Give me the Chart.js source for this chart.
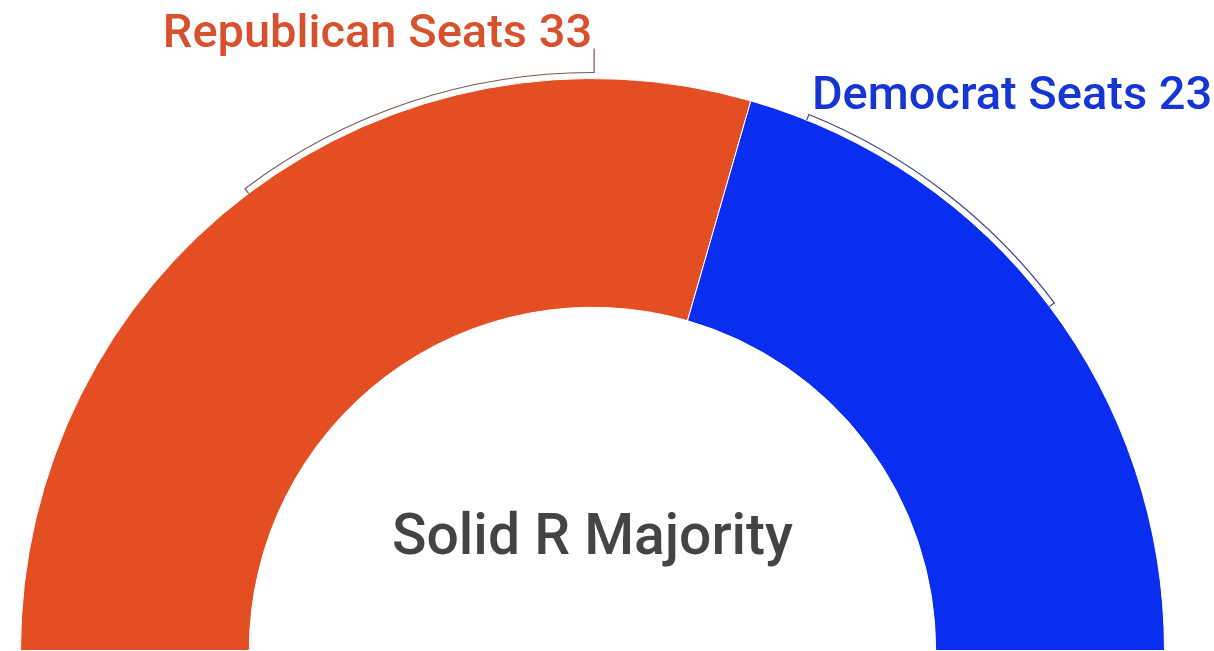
<!DOCTYPE html>
<html>
<head>
<meta charset="utf-8">
<script src="https://cdn.jsdelivr.net/npm/chart.js@4"></script>
<style>
  html, body { margin: 0; padding: 0; background: #fff; }
  #wrap { width: 1214px; height: 651px; }
</style>
</head>
<body>
<div id="wrap"><canvas id="myChart"></canvas></div>
<script>
  // seats by party
  const parties = ["Republican Seats", "Democrat Seats"];
  const seats = [33, 23];
  const sliceColours = ["#E34E22", "#0A2EF0"];
  const textColours = ["#D8512E", "#1536D4"];
  const centreText = "Solid R Majority";

  // where each bracket sits along its slice, as fraction of the slice
  const bracketSpan = [[0.50, 0.85], [0.08, 0.50]];

  // draws the curved brackets, the labels and the middle text
  const callouts = {
    id: "callouts",
    afterDraw(chart) {
      const ctx = chart.ctx;
      const arcs = chart.getDatasetMeta(0).data;
      arcs.forEach((arc, i) => {
        const p = arc.getProps(["x", "y", "startAngle", "endAngle", "outerRadius"], true);
        const r = p.outerRadius + 6;
        const a0 = p.startAngle + (p.endAngle - p.startAngle) * bracketSpan[i][0];
        const a1 = p.startAngle + (p.endAngle - p.startAngle) * bracketSpan[i][1];
        const pt = (a, rr) => [p.x + Math.cos(a) * rr, p.y + Math.sin(a) * rr];

        ctx.save();
        ctx.strokeStyle = i == 0 ? "#7a5a50" : "#39438a";
        ctx.lineWidth = 1.2;
        ctx.beginPath();
        let s = pt(a0, r - 6);
        ctx.moveTo(s[0], s[1]);
        ctx.arc(p.x, p.y, r, a0, a1);
        let e;
        if (i == 0) {
          // end tick goes up towards the label
          e = pt(a1, r);
          ctx.lineTo(e[0], e[1] - 24);
        } else {
          e = pt(a1, r - 6);
          ctx.lineTo(e[0], e[1]);
        }
        ctx.stroke();

        ctx.fillStyle = textColours[i];
        ctx.font = "500 47px Roboto";
        ctx.textBaseline = "alphabetic";
        const txt = parties[i] + " " + seats[i];
        if (i == 0) {
          const q = pt(a1, r);
          ctx.textAlign = "right";
          ctx.fillText(txt, q[0] - 2, q[1] - 26);
        } else {
          const q = pt(a0, r);
          ctx.textAlign = "left";
          ctx.fillText(txt, q[0] + 3, q[1] - 6);
        }
        ctx.restore();
      });

      const c = arcs[0];
      ctx.save();
      ctx.fillStyle = "#444444";
      ctx.font = "500 57px Roboto";
      ctx.textAlign = "center";
      ctx.textBaseline = "alphabetic";
      ctx.fillText(centreText, c.x, c.y - 97);
      ctx.restore();
    }
  };

  const myChart = new Chart("myChart", {
    type: "doughnut",
    data: {
      labels: parties,
      datasets: [{
        data: seats,
        backgroundColor: sliceColours,
        borderColor: "#ffffff",
        borderWidth: 1
      }]
    },
    options: {
      responsive: true,
      maintainAspectRatio: false,
      animation: false,
      rotation: -90,
      circumference: 180,
      cutout: "60%",
      layout: { padding: { left: 20, right: 49, top: 78, bottom: 0 } },
      plugins: {
        legend: { display: false },
        tooltip: { enabled: false }
      }
    },
    plugins: [callouts]
  });
</script>
</body>
</html>
